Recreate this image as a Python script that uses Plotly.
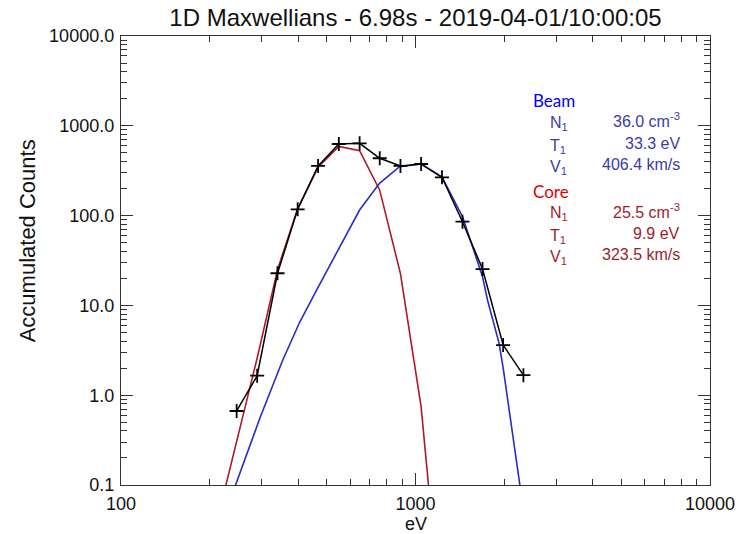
import plotly.graph_objects as go

# ---- data ----
energy = [247, 290, 340, 398, 467, 549, 646, 756, 889, 1045, 1230, 1444, 1689, 1984, 2325]
counts = [0.667, 1.65, 22.8, 117.5, 357, 627, 638, 435, 357, 375.6, 267, 85.5, 25.4, 3.62, 1.67]

core_energy = [210, 247, 290, 340, 398, 467, 549, 646, 756, 889, 1045, 1230]
core_counts = [0.035, 0.317, 2.6, 25, 120, 345, 590, 528, 192, 22.6, 0.74, 0.0025]

beam_energy = [210, 243.7, 296.3, 354.3, 404.6, 461.9, 552.6, 645.9, 754.8, 882.2,
               1044.7, 1230.3, 1444.5, 1688.6, 1755.5, 1923, 1989, 2265, 2325]
beam_counts = [0.025, 0.0975, 0.557, 2.47, 6.53, 14.9, 43.6, 115.3, 229, 350,
               375.6, 269, 97.2, 20.9, 11.5, 3.78, 1.91, 0.102, 0.053]

ytick_vals = [0.1, 1, 10, 100, 1000, 10000]
ytick_text = ["0.1", "1.0", "10.0", "100.0", "1000.0", "10000.0"]
xtick_vals = [100, 1000, 10000]
xtick_text = ["100", "1000", "10000"]

title_text = "1D Maxwellians - 6.98s - 2019-04-01/10:00:05"
beam_labels = ["N<sub>1</sub>", "T<sub>1</sub>", "V<sub>1</sub>"]
beam_values = ["36.0 cm<sup>-3</sup>", "33.3 eV", "406.4 km/s"]
core_labels = ["N<sub>1</sub>", "T<sub>1</sub>", "V<sub>1</sub>"]
core_values = ["25.5 cm<sup>-3</sup>", "9.9 eV", "323.5 km/s"]

# ---- layout geometry (pixels) ----
W, H = 747, 534
L, R, T, B = 121, 35, 36, 49
PW, PH = W - L - R, H - T - B


def px(x):
    return (x - L) / PW


def py(y):
    return (H - B - y) / PH


FONT = "Liberation Sans, Arial, Helvetica, sans-serif"

fig = go.Figure()
fig.add_trace(go.Scatter(x=core_energy, y=core_counts, mode="lines",
                         line=dict(color="#b0182a", width=1.6), hoverinfo="skip"))
fig.add_trace(go.Scatter(x=beam_energy, y=beam_counts, mode="lines",
                         line=dict(color="#2a2ac8", width=1.6), hoverinfo="skip"))
fig.add_trace(go.Scatter(x=energy, y=counts, mode="lines+markers",
                         line=dict(color="black", width=1.5),
                         marker=dict(symbol="cross-thin", size=10,
                                     line=dict(color="black", width=1.8)),
                         hoverinfo="skip"))

axis_common = dict(
    type="log", showgrid=False, zeroline=False,
    showline=True, linecolor="#333", linewidth=1.4, mirror="ticks",
    ticks="inside", ticklen=12, tickwidth=1.2, tickcolor="#333",
    tickfont=dict(family=FONT, size=18, color="#111"),
    minor=dict(ticks="inside", ticklen=6, tickwidth=1.0, tickcolor="#333",
               dtick="D1", showgrid=False),
)

fig.update_layout(
    width=W, height=H,
    margin=dict(l=L, r=R, t=T, b=B, pad=0),
    paper_bgcolor="white", plot_bgcolor="white",
    showlegend=False,
    xaxis=dict(range=[2, 4], tickvals=xtick_vals, ticktext=xtick_text,
               ticklabelstandoff=2, **axis_common),
    yaxis=dict(range=[-1, 4], tickvals=ytick_vals, ticktext=ytick_text,
               ticklabelstandoff=2, **axis_common),
    title=dict(text=title_text, x=px(416.5), xref="paper", xanchor="center",
               y=1 - 18 / H, yref="container", yanchor="middle",
               font=dict(family=FONT, size=24, color="#111")),
)

ann = []
ann.append(dict(text="Accumulated Counts", xref="paper", yref="paper",
                x=px(27), y=py(241), textangle=-90, showarrow=False,
                xanchor="center", yanchor="middle",
                font=dict(family=FONT, size=22, color="#111")))
ann.append(dict(text="eV", xref="paper", yref="paper", x=px(416.5), y=py(524),
                showarrow=False, xanchor="center", yanchor="middle",
                font=dict(family=FONT, size=18, color="#111")))

def block(header, hy, hcolor, labels, values, rows_y, vcolor):
    ann.append(dict(text=header, xref="paper", yref="paper", x=px(532), y=py(hy),
                    showarrow=False, xanchor="left", yanchor="middle",
                    font=dict(family="Lato, sans-serif", size=17, color=hcolor)))
    for lab, val, ry in zip(labels, values, rows_y):
        ann.append(dict(text=lab, xref="paper", yref="paper", x=px(549), y=py(ry + 3),
                        showarrow=False, xanchor="left", yanchor="middle",
                        font=dict(family=FONT, size=16, color=vcolor)))
        ann.append(dict(text=val, xref="paper", yref="paper", x=px(683.5), y=py(ry),
                        showarrow=False, xanchor="right", yanchor="middle",
                        font=dict(family=FONT, size=16, color=vcolor)))

block("Beam", 101, "#0000ff", beam_labels, beam_values, [120, 143, 164], "#3b3ba8")
block("Core", 191, "#e00000", core_labels, core_values, [211, 233, 254], "#a01c28")

fig.update_layout(annotations=ann)
fig.write_html("out.html")
